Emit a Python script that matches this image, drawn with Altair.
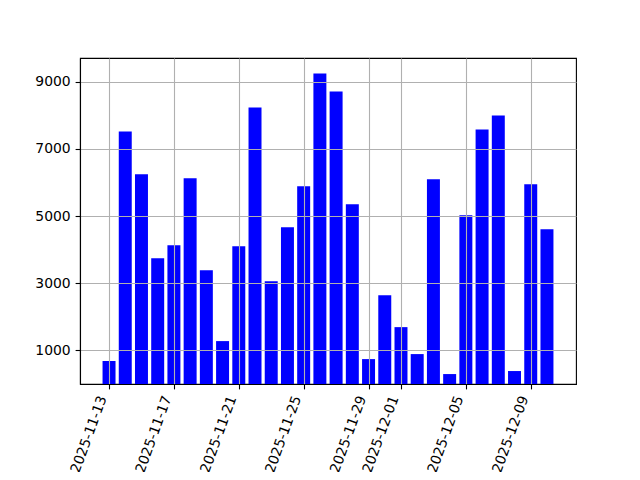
import altair as alt
import pandas as pd

dates = [
    "2025-11-13", "2025-11-14", "2025-11-15", "2025-11-16", "2025-11-17", "2025-11-18", "2025-11-19",
    "2025-11-20", "2025-11-21", "2025-11-22", "2025-11-23", "2025-11-24", "2025-11-25", "2025-11-26",
    "2025-11-27", "2025-11-28", "2025-11-29", "2025-11-30", "2025-12-01", "2025-12-02", "2025-12-03",
    "2025-12-04", "2025-12-05", "2025-12-06", "2025-12-07", "2025-12-08", "2025-12-09", "2025-12-10",
]
values = [683, 7523, 6244, 3746, 4133, 6125, 3389, 1278, 4103, 8237, 3062, 4668, 5887, 9248,
          8712, 5352, 742, 2646, 1694, 891, 6095, 296, 5025, 7582, 7999, 386, 5947, 4609]
x_ticks = [(2025, 11, 13), (2025, 11, 17), (2025, 11, 21), (2025, 11, 25),
           (2025, 11, 29), (2025, 12, 1), (2025, 12, 5), (2025, 12, 9)]
y_ticks = [1000, 3000, 5000, 7000, 9000]

df = pd.DataFrame({"date": [d + "T00:00:00" for d in dates], "value": values})

HALF = 0.4 * 86400000
FONT = "DejaVu Sans"

x_axis = alt.Axis(
    values=[alt.DateTime(year=y, month=m, date=d) for (y, m, d) in x_ticks],
    format="%Y-%m-%d", labelAngle=-70, labelAlign="right", labelBaseline="bottom",
    labelFlush=False, labelOverlap=False, title=None,
    grid=True, gridColor="#b0b0b0", gridWidth=1.1,
    domainColor="black", domainWidth=1.1, tickColor="black", tickWidth=1.1, tickSize=4.9,
    labelPadding=9.5, labelFontSize=13.9, labelFont=FONT, labelColor="black", zindex=1,
)
y_axis = alt.Axis(
    values=y_ticks, format="d", title=None,
    grid=True, gridColor="#b0b0b0", gridWidth=1.1,
    domainColor="black", domainWidth=1.1, tickColor="black", tickWidth=1.1, tickSize=4.9,
    labelPadding=4.9, labelFontSize=13.9, labelFont=FONT, labelColor="black", zindex=1,
)

chart = (
    alt.Chart(df)
    .transform_calculate(
        x0=f"toNumber(toDate(datum.date)) - {HALF}",
        x1=f"toNumber(toDate(datum.date)) + {HALF}",
    )
    .mark_rect(color="#0000ff")
    .encode(
        x=alt.X("x0:T", axis=x_axis,
                scale=alt.Scale(domain=[alt.DateTime(year=2025, month=11, date=11, hours=5, minutes=2),
                                        alt.DateTime(year=2025, month=12, date=11, hours=18, minutes=58)],
                                nice=False)),
        x2="x1:T",
        y=alt.Y("value:Q", axis=y_axis, scale=alt.Scale(domain=[0, 9710], nice=False, zero=True)),
        y2=alt.datum(0),
    )
    .properties(
        width=496, height=326,
        padding={"left": 72, "top": 50, "right": 56, "bottom": 88},
        autosize=alt.AutoSizeParams(type="none"),
        background="white",
    )
    .configure_view(stroke="black", strokeWidth=1.1)
)

chart.save("out.html", embed_options={"renderer": "svg", "actions": False})
